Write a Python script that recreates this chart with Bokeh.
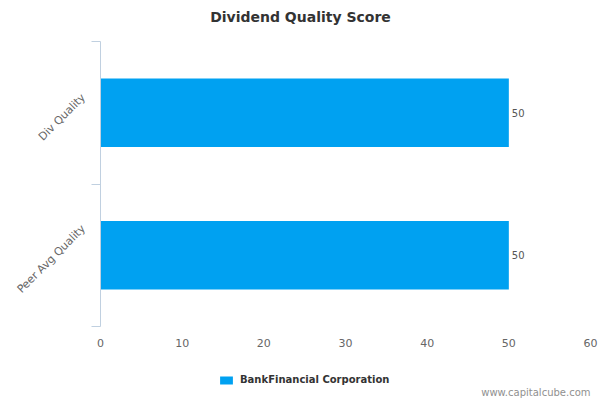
import numpy as np
from bokeh.plotting import figure
from bokeh.models import (Range1d, FixedTicker, Legend, LegendItem, Label,
                          ColumnDataSource, LabelSet)
from bokeh.core.properties import value
from bokeh.embed import file_html
from bokeh.resources import INLINE

# data
categories = ["Peer Avg Quality", "Div Quality"]   # bottom to top
values = [50, 50]
series_name = "BankFinancial Corporation"
x_ticks = [0, 10, 20, 30, 40, 50, 60]
chart_title = "Dividend Quality Score"
credit = "www.capitalcube.com"

FONT = "DejaVu Sans"
W, H = 600, 400
n = len(categories)
ypos = np.arange(n) + 0.5
xmax = x_ticks[-1]

src = ColumnDataSource(dict(y=ypos, v=values, lab=[str(v) for v in values]))

# plotting band in pixels (left, right, top, bottom) -> ranges over the whole canvas
band_l, band_r, band_t, band_b = 100, 590, 41, 326
xs = (band_r - band_l) / xmax
ys = (band_b - band_t) / n
x_range = Range1d(-band_l / xs, xmax + (W - band_r) / xs)
y_range = Range1d(-(H - band_b) / ys, n + band_t / ys)

p = figure(width=W, height=H, output_backend="svg", toolbar_location=None,
           x_range=x_range, y_range=y_range,
           min_border_left=0, min_border_right=0, min_border_top=0,
           min_border_bottom=0)
p.title.visible = False
p.outline_line_color = None
p.grid.grid_line_color = None
p.background_fill_color = "white"
p.border_fill_color = "white"

r = p.hbar(y="y", right="v", left=0, height=0.48, source=src,
           fill_color="#00a1f1", line_color=None)

p.add_layout(LabelSet(x="v", y="y", text="lab", source=src, x_offset=3,
                      text_font=value(FONT), text_font_size=value("10px"),
                      text_color="#555555",
                      text_baseline="middle", text_align="left"))

# x axis, drawn at the foot of the category band
xa = p.xaxis[0]
xa.fixed_location = 0
xa.bounds = (0, xmax)
xa.ticker = FixedTicker(ticks=x_ticks)
xa.axis_line_color = None
xa.major_tick_line_color = None
xa.major_tick_out = 0
xa.minor_tick_line_color = None
xa.major_label_text_font = FONT
xa.major_label_text_font_size = "11px"
xa.major_label_text_color = "#666666"
xa.major_label_standoff = 12

# y axis (rotated labels anchored a little above each category centre, like the reference)
label_shift = [0.2, 0.12]
ya = p.yaxis[0]
ya.fixed_location = 0
ya.bounds = (0, n)
ya.ticker = FixedTicker(ticks=[y + s for y, s in zip(ypos, label_shift)],
                        minor_ticks=list(range(n + 1)))
ya.major_label_overrides = {float(y + s): c for y, s, c in zip(ypos, label_shift, categories)}
ya.axis_line_color = "#C0D0E0"
ya.major_tick_line_color = None
ya.major_tick_out = 0
ya.minor_tick_line_color = "#C0D0E0"
ya.minor_tick_out = 9
ya.minor_tick_in = 0
ya.major_label_orientation = np.pi / 4
ya.major_label_text_font = FONT
ya.major_label_text_font_size = "11px"
ya.major_label_text_color = "#666666"
ya.major_label_standoff = 8

legend = Legend(items=[LegendItem(label=series_name, renderers=[r])],
                location=(218, 15), orientation="horizontal",
                label_text_font=FONT, label_text_font_size="10px",
                label_text_font_style="bold", label_text_color="#333333",
                glyph_width=16, glyph_height=10, label_height=10,
                border_line_color=None, background_fill_alpha=0,
                padding=0, margin=0, spacing=0, label_standoff=6)
p.add_layout(legend, "center")

p.add_layout(Label(x=W / 2, y=H - 16, x_units="screen", y_units="screen",
                   text=chart_title, text_font=FONT, text_font_size="14px",
                   text_font_style="bold", text_color="#333333",
                   text_align="center", text_baseline="middle"))

p.add_layout(Label(x=xmax, y=8, x_units="data", y_units="screen", text=credit,
                   text_font=FONT, text_font_size="10px", text_color="#909090",
                   text_align="right", text_baseline="middle"))

open("out.html", "w").write(file_html(p, INLINE))
